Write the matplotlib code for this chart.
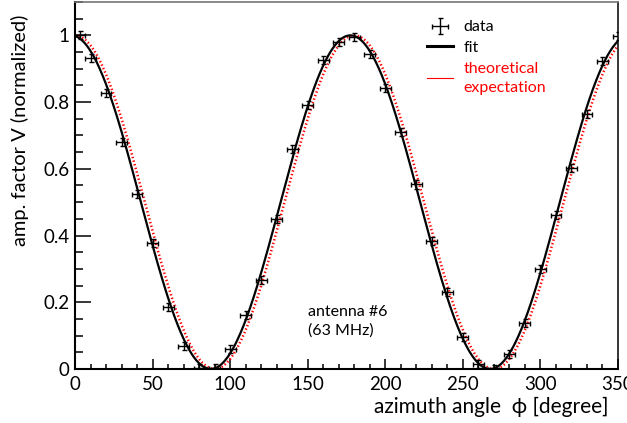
import matplotlib.pyplot as plt
import numpy as np
from matplotlib.lines import Line2D
from matplotlib.ticker import MultipleLocator, FuncFormatter

plt.rcParams["font.family"] = ["Lato", "DejaVu Sans"]

# measured amplitude factor vs azimuth
phi = [3, 10, 20, 30, 40, 50, 60, 70, 80, 90, 100, 110, 120, 130, 140, 150,
       160, 170, 180, 190, 200, 210, 220, 230, 240, 250, 260, 270, 280, 290,
       300, 310, 320, 330, 340, 350]
amp = [1.0, 0.933, 0.826, 0.679, 0.524, 0.378, 0.185, 0.070, 0.004, 0.003,
       0.059, 0.162, 0.266, 0.449, 0.658, 0.790, 0.925, 0.980, 0.995, 0.943,
       0.842, 0.710, 0.553, 0.383, 0.230, 0.095, 0.015, 0.001, 0.045, 0.137,
       0.299, 0.461, 0.601, 0.765, 0.922, 0.998]
phi_err = 3.5
amp_err = 0.012

# cos^2 model: fitted phase offset vs. expected
fit_offset = -2.5
theo_offset = 0.0

xticks = [0, 50, 100, 150, 200, 250, 300, 350]
yticks = [0, 0.2, 0.4, 0.6, 0.8, 1.0]


def model(x, offset):
    return np.cos(np.radians(x - offset)) ** 2


fig = plt.figure(figsize=(6.27, 4.23), dpi=100)
ax = fig.add_axes([75 / 627, 54 / 423, 543 / 627, 367 / 423])

xs = np.linspace(0, 350, 700)
(fit_line,) = ax.plot(xs, model(xs, fit_offset), color="black", lw=1.6, zorder=3)
(theo_line,) = ax.plot(xs, model(xs, theo_offset), color="red", lw=1.8,
                       ls=(0, (0.55, 0.95)), dash_capstyle="butt", zorder=2)
data = ax.errorbar(phi, amp, xerr=phi_err, yerr=amp_err, fmt="none",
                   ecolor="black", elinewidth=1.0, capsize=1.8, capthick=1.0,
                   zorder=4)

ax.set_xlim(0, 350)
ax.set_ylim(0, 1.1)
ax.set_xticks(xticks)
ax.set_yticks(yticks)
ax.xaxis.set_minor_locator(MultipleLocator(10))
ax.yaxis.set_minor_locator(MultipleLocator(0.05))
ax.yaxis.set_major_formatter(FuncFormatter(lambda v, p: "%g" % v))

ax.tick_params(axis="both", which="both", direction="in", labelsize=13.5,
               top=False, right=False, width=1.1, colors="black")
ax.tick_params(axis="y", which="major", length=11.5, pad=4)
ax.tick_params(axis="y", which="minor", length=5.8)
ax.tick_params(axis="x", which="major", length=7.2, pad=5)
ax.tick_params(axis="x", which="minor", length=3.6)

ax.spines["left"].set_linewidth(1.5)
ax.spines["bottom"].set_linewidth(1.5)
ax.spines["right"].set_linewidth(1.1)
ax.spines["top"].set_linewidth(1.2)
ax.spines["top"].set_color("#777777")

fig.text(608 / 627, 1 - 407 / 423, "azimuth angle  ϕ [degree]", fontsize=15,
         ha="right", va="center")
fig.text(20 / 627, 1 - 15 / 423, "amp. factor V (normalized)", fontsize=14.5,
         rotation=90, ha="center", va="top")

ax.text(150, 0.142, "antenna #6\n(63 MHz)", fontsize=11.5, ha="left",
        va="center", linespacing=1.35)

theo_handle = Line2D([], [], color="red", lw=0.8)
fit_handle = Line2D([], [], color="black", lw=2.2)
leg = ax.legend([data, fit_handle, theo_handle],
                ["data", "fit", "theoretical\nexpectation"],
                loc="upper left", bbox_to_anchor=(427 / 627, 1 - 20 / 423),
                bbox_transform=fig.transFigure, frameon=False, fontsize=11.5,
                handlelength=1.6, handletextpad=0.7, labelspacing=0.42,
                borderaxespad=0, borderpad=0)
for t in leg.get_texts():
    t.set_linespacing(1.45)
    if t.get_text().startswith("theoretical"):
        t.set_color("red")

fig.savefig("out.png", dpi=100)
